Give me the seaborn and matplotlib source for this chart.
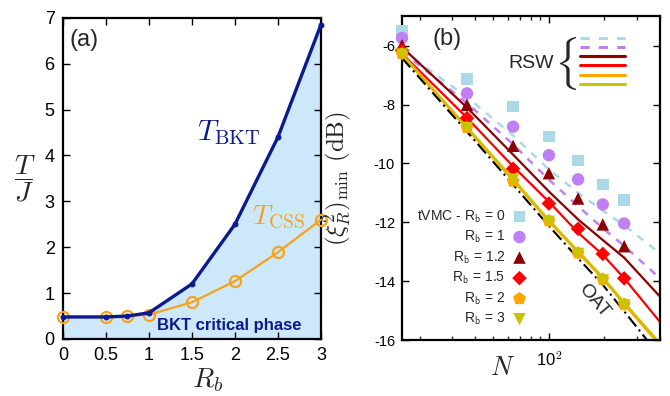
"""
Two-panel figure: (a) BKT / CSS temperatures vs R_b, (b) optimal squeezing vs N.
"""
import matplotlib
matplotlib.use("Agg")
import pandas as pd
import matplotlib.pyplot as plt
from matplotlib.lines import Line2D
from matplotlib.ticker import FixedLocator, NullFormatter, FuncFormatter
import seaborn as sns

sns.set_theme(style="ticks")
plt.rcParams['font.family'] = ['Liberation Sans', 'DejaVu Sans']
plt.rcParams['mathtext.fontset'] = 'cm'

# ---- panel (a) data ----
rb = [0, 0.5, 0.75, 1, 1.5, 2, 2.5, 3]
t_bkt = [0.48, 0.48, 0.50, 0.57, 1.20, 2.50, 4.40, 6.85]
t_css = [0.48, 0.48, 0.50, 0.53, 0.80, 1.26, 1.89, 2.60]

# ---- panel (b) data ----
n_tvmc = [16, 36, 64, 100, 144, 196, 256]
tvmc_rb0 = [-5.48, -7.13, -8.07, -9.09, -9.90, -10.72, -11.24]
tvmc_rb1 = [-5.74, -7.62, -8.75, -9.72, -10.54, -11.39, -12.04]
tvmc_rb12 = [-5.99, -8.01, -9.40, -10.33, -11.19, -12.07, -12.81]
tvmc_rb15 = [-6.16, -8.46, -10.18, -11.36, -12.22, -13.07, -13.90]
tvmc_rb2 = [-6.27, -8.78, -10.60, -11.95, -13.04, -13.93, -14.78]
tvmc_rb3 = [-6.30, -8.80, -10.55, -11.98, -13.07, -13.97, -14.82]

n_rsw = [16, 36, 64, 100, 144, 196, 256, 400]
rsw_rb0 = [-6.15, -7.75, -9.05, -10.20, -11.00, -11.60, -12.10, -13.05]
rsw_rb1 = [-6.20, -7.95, -9.35, -10.55, -11.45, -12.20, -12.80, -13.90]
rsw_rb12 = [-6.05, -8.10, -9.70, -10.95, -11.90, -12.60, -13.20, -14.52]
rsw_rb15 = [-6.27, -8.45, -10.10, -11.30, -12.35, -13.10, -13.90, -15.38]
rsw_rb2 = [-6.32, -8.82, -10.58, -11.97, -13.03, -13.92, -14.78, -16.18]
rsw_rb3 = [-6.28, -8.76, -10.52, -11.92, -12.97, -13.86, -14.72, -16.10]
oat = [-6.42, -8.92, -10.72, -12.12, -13.22, -14.12, -15.02, -16.55]

labels = ["tVMC - R$_\\mathsf{b}$ = 0", "R$_\\mathsf{b}$ = 1", "R$_\\mathsf{b}$ = 1.2",
          "R$_\\mathsf{b}$ = 1.5", "R$_\\mathsf{b}$ = 2", "R$_\\mathsf{b}$ = 3"]
colors = ["#add8e6", "#bf80f5", "#8b0000", "#ff0000", "#ffa500", "#c8c400"]
markers = ["s", "o", "^", "D", "p", "v"]
sizes = [70, 80, 80, 55, 95, 80]
tvmc = [tvmc_rb0, tvmc_rb1, tvmc_rb12, tvmc_rb15, tvmc_rb2, tvmc_rb3]
rsw = [rsw_rb0, rsw_rb1, rsw_rb12, rsw_rb15, rsw_rb2, rsw_rb3]
rsw_styles = [(0, (3, 3)), (0, (3, 3)), "-", "-", "-", "-"]

NAVY = "#0b1a8c"
ORANGE = "#f7a21b"

fig = plt.figure(figsize=(6.7, 3.96), dpi=100)
ax1 = fig.add_axes([0.094, 0.144, 0.385, 0.811])
ax2 = fig.add_axes([0.600, 0.141, 0.385, 0.818])

# ---------------- panel (a) ----------------
ax1.fill_between(rb, 0, t_bkt, color="#cde8fa", lw=0, zorder=0)
sns.lineplot(x=rb, y=t_css, ax=ax1, color=ORANGE, lw=1.6, marker="o", ms=8,
             mfc="none", mec=ORANGE, mew=1.6, clip_on=False, zorder=3)
sns.lineplot(x=rb, y=t_bkt, ax=ax1, color=NAVY, lw=2.4, marker="o", ms=3.5,
             mec=NAVY, clip_on=False, zorder=4)
ax1.set_xlim(0, 3)
ax1.set_ylim(0, 7)
ax1.set_xticks([0, 0.5, 1, 1.5, 2, 2.5, 3])
ax1.set_xticklabels(["0", "0.5", "1", "1.5", "2", "2.5", "3"])
ax1.set_yticks(range(8))
ax1.tick_params(direction="in", top=True, right=True, length=5, width=1,
                labelsize=13, pad=6)
ax1.set_xlabel("$R_b$", fontsize=20)
ax1.xaxis.set_label_coords(0.56, -0.085)
ax1.set_ylabel(r"$\dfrac{T}{J}$", fontsize=20, rotation=0, va="center", ha="center")
ax1.yaxis.set_label_coords(-0.15, 0.5)
ax1.text(0.08, 0.93, "(a)", transform=ax1.transAxes, fontsize=17,
         ha="center", va="center")
ax1.text(1.93, 4.5, r"$T_{\mathrm{BKT}}$", color=NAVY, fontsize=21,
         ha="center", va="center")
ax1.text(2.5, 2.64, r"$T_{\mathrm{CSS}}$", color=ORANGE, fontsize=20,
         ha="center", va="center")
ax1.text(1.93, 0.3, "BKT critical phase", color=NAVY, fontsize=12,
         fontweight="bold", ha="center", va="center")

# ---------------- panel (b) ----------------
ax2.set_xscale("log")
for vals, col, ls in zip(rsw, colors, rsw_styles):
    sns.lineplot(x=n_rsw, y=vals, ax=ax2, color=col, lw=1.8 if ls != "-" else 1.6,
                 linestyle=ls, zorder=2)
sns.lineplot(x=n_rsw, y=oat, ax=ax2, color="black", lw=1.5,
             linestyle=(0, (6, 2, 1, 2)), zorder=3)
for vals, col, mk, sz, lab in zip(tvmc, colors, markers, sizes, labels):
    sns.scatterplot(x=n_tvmc, y=vals, ax=ax2, color=col, marker=mk, s=sz,
                    edgecolor="none", label=lab, clip_on=False, zorder=4)

ax2.set_xlim(16, 400)
ax2.set_ylim(-16, -5)
ax2.xaxis.set_major_locator(FixedLocator([100]))
ax2.xaxis.set_minor_locator(FixedLocator([20, 30, 40, 50, 60, 70, 80, 90, 200, 300, 400]))
ax2.xaxis.set_minor_formatter(NullFormatter())
ax2.xaxis.set_major_formatter(FuncFormatter(lambda v, p: "10$^{\\mathsf{2}}$"))
ax2.set_yticks([-6, -8, -10, -12, -14, -16])
ax2.yaxis.set_major_formatter(FuncFormatter(lambda v, p: f"{v:.0f}"))
ax2.tick_params(which="both", direction="in", top=True, right=True, width=1)
ax2.tick_params(which="major", length=5, labelsize=10.5, pad=5)
ax2.tick_params(axis="x", which="major", labelsize=12, pad=7)
ax2.tick_params(which="minor", length=3)
ax2.set_xlabel("$N$", fontsize=19, va="center")
ax2.xaxis.set_label_coords(0.39, -0.085)
ax2.set_ylabel(r"$(\xi_R^2)_{\min}\ (\mathrm{dB})$", fontsize=18)
ax2.yaxis.set_label_coords(-0.19, 0.5)
ax2.text(0.175, 0.93, "(b)", transform=ax2.transAxes, fontsize=17,
         ha="center", va="center")
ax2.text(0.745, 0.12, "OAT", transform=ax2.transAxes, fontsize=14,
         rotation=-50, ha="center", va="center")

handles, labs = ax2.get_legend_handles_labels()
leg = ax2.legend(handles, labs, loc="lower right", bbox_to_anchor=(0.52, 0.01),
                 frameon=False, markerfirst=False, fontsize=10,
                 handlelength=1.0, handletextpad=0.5, labelspacing=0.3,
                 borderpad=0.2)
ax2.add_artist(leg)

rsw_handles = [Line2D([], [], color=c, lw=2.2, linestyle=ls)
               for c, ls in zip(colors, rsw_styles)]
ax2.legend(rsw_handles, [""] * 6, loc="upper left", bbox_to_anchor=(0.67, 0.955),
           frameon=False, fontsize=5, handlelength=6.5, handletextpad=0,
           labelspacing=0.3, borderpad=0.2)
ax2.text(0.5, 0.855, "RSW", transform=ax2.transAxes, fontsize=14,
         ha="center", va="center")
ax2.text(0.632, 0.855, r"$\{$", transform=ax2.transAxes, fontsize=32,
         ha="center", va="center")

for ax in (ax1, ax2):
    for sp in ax.spines.values():
        sp.set_linewidth(1.6)
        sp.set_color("black")
    ax.tick_params(colors="black", labelcolor="black")

fig.savefig("out.png", dpi=100)
